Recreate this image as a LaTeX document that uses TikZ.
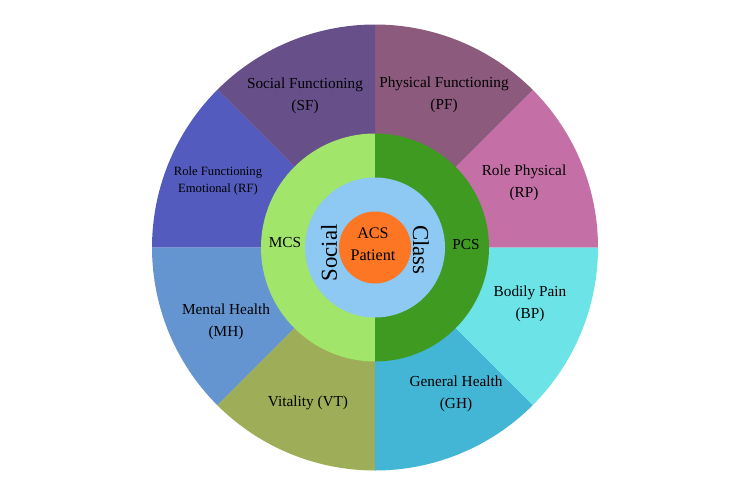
\documentclass[tikz,border=0pt]{standalone}
\usepackage{fontspec}
\setmainfont{Liberation Serif}
\usetikzlibrary{positioning}
\definecolor{qlsf}{HTML}{674F8A}
\definecolor{qlpf}{HTML}{8C5A7C}
\definecolor{qlrp}{HTML}{C46FA6}
\definecolor{qlbp}{HTML}{6BE3E7}
\definecolor{qlgh}{HTML}{43B5D5}
\definecolor{qlvt}{HTML}{9DAD58}
\definecolor{qlmh}{HTML}{6495D0}
\definecolor{qlrf}{HTML}{535CBE}
\definecolor{qlmcs}{HTML}{A1E56B}
\definecolor{qlpcs}{HTML}{3F9A22}
\definecolor{qlazul}{HTML}{8DC9F2}
\definecolor{qllaranja}{HTML}{FD7623}
\tikzset{
  qlrotulo/.style={font=\fontsize{8.7}{12.5}\selectfont, align=center, text=black, inner sep=0pt},
  qlrotulopeq/.style={qlrotulo, font=\fontsize{7.2}{9.2}\selectfont},
  qleixo/.style={font=\fontsize{13}{14}\selectfont, inner sep=0pt},
}

\begin{document}
\begin{tikzpicture}[x=0.02cm, y=0.02cm]
  \useasboundingbox (0,0) rectangle (750,495);
  \coordinate (c) at (375,247.5);
  % setores externos
  \foreach \a/\cor in {0/qlrp,45/qlpf,90/qlsf,135/qlrf,180/qlmh,225/qlvt,270/qlgh,315/qlbp}
    \fill[\cor] (c) -- ++(\a:223) arc[start angle=\a, end angle=\a+45, radius=223] -- cycle;
  % anel do meio
  \fill[qlmcs] (c) -- ++(90:114) arc[start angle=90, end angle=270, radius=114] -- cycle;
  \fill[qlpcs] (c) -- ++(-90:114) arc[start angle=-90, end angle=90, radius=114] -- cycle;
  \fill[qlazul] (c) circle[radius=70];
  \fill[qllaranja] (c) circle[radius=36];
  % rotulos
  \node[qlrotulo] (sf) at (305,399) {Social Functioning\\(SF)};
  \node[qlrotulo] (pf) at (444,400) {Physical Functioning\\(PF)};
  \node[qlrotulo] (rp) at (524,312) {Role Physical\\(RP)};
  \node[qlrotulopeq] (rf) at (218,314) {Role Functioning\\Emotional (RF)};
  \node[qlrotulo] (mh) at (226,173) {Mental Health\\(MH)};
  \node[qlrotulo] (vt) at (308,92) {Vitality (VT)};
  \node[qlrotulo] (bp) at (530,191) {Bodily Pain\\(BP)};
  \node[qlrotulo] (gh) at (456,101) {General Health\\(GH)};
  \node[qlrotulo] (mcs) at (285,252) {MCS};
  \node[qlrotulo] (pcs) at (466,250) {PCS};
  \node[qleixo, rotate=90] (social) at (329,242) {Social};
  \node[qleixo, rotate=-90] (class) at (421,245) {Class};
  \node[qlrotulo, font=\fontsize{9.2}{12.5}\selectfont] (acs) at (373,251) {ACS\\Patient};
\end{tikzpicture}
\end{document}
